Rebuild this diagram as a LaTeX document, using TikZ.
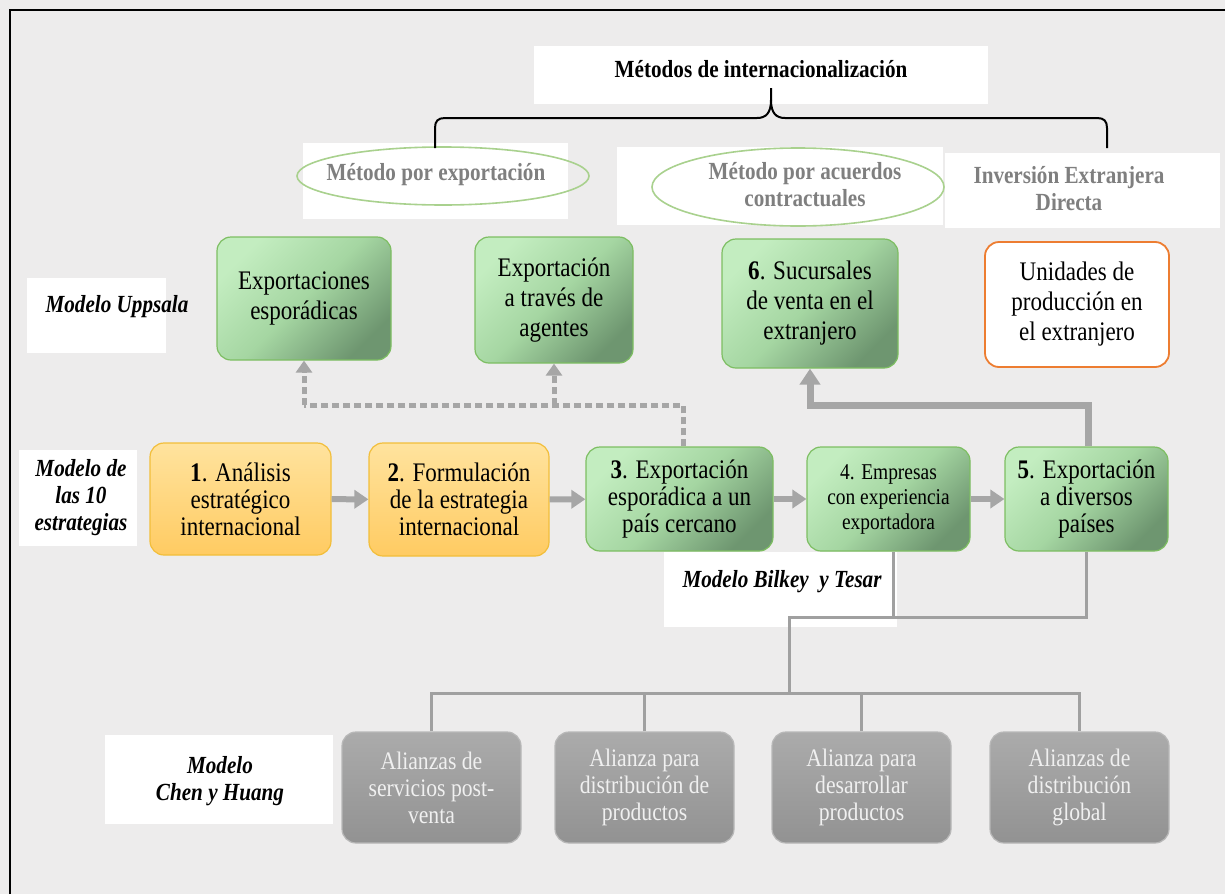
\documentclass[tikz,border=0pt]{standalone}
\usepackage{fontspec}
\setmainfont{Liberation Serif}[FakeStretch=0.86]
\usetikzlibrary{shapes.geometric,arrows.meta}
\definecolor{bgc}{HTML}{EDECEC}
\definecolor{gA}{HTML}{C3EDC0}
\definecolor{gM}{HTML}{A5D6A2}
\definecolor{gB}{HTML}{6E9670}
\definecolor{gBorder}{HTML}{7DBE62}
\definecolor{oA}{HTML}{FFE39E}
\definecolor{oB}{HTML}{FFCB62}
\definecolor{oBorder}{HTML}{F2BE3A}
\definecolor{grA}{HTML}{ABABAB}
\definecolor{grB}{HTML}{929292}
\definecolor{grBorder}{HTML}{B8B8B8}
\definecolor{conn}{HTML}{A6A6A6}
\definecolor{treec}{HTML}{A0A0A0}
\definecolor{ellc}{HTML}{A9D18E}
\definecolor{methc}{HTML}{7F7F7F}
\definecolor{orangeb}{HTML}{ED7D31}
\tikzset{
  boxtxt/.style={align=center, inner sep=0pt, font=\fontsize{13.4}{15}\selectfont},
  greenbox/.style={boxtxt, rounded corners=7pt, draw=gBorder, line width=0.6pt,
     top color=gA, bottom color=gB, middle color=gM, shading angle=45},
  orangebox/.style={boxtxt, rounded corners=7pt, draw=oBorder, line width=0.6pt,
     top color=oA, bottom color=oB, font=\fontsize{13.4}{13.5}\selectfont},
  graybox/.style={boxtxt, rounded corners=7pt, draw=grBorder, line width=0.6pt,
     top color=grA, bottom color=grB, text=white!94!black, font=\fontsize{12.6}{13.5}\selectfont},
  whitebox/.style={fill=white, inner sep=0pt},
  modeltxt/.style={align=center, inner sep=0pt, font=\fontsize{12.3}{13.5}\selectfont\bfseries\itshape},
  methtxt/.style={align=center, inner sep=0pt, text=methc, font=\fontsize{12.3}{13.5}\selectfont\bfseries},
  ell/.style={ellipse, draw=ellc, line width=0.8pt, inner sep=0pt},
  bigarrow/.style={draw=conn, line width=3pt, -{Triangle[width=9pt,length=7pt]}},
  dasharrow/.style={draw=conn, line width=2.5pt, dash pattern=on 3.5pt off 2pt, -{Triangle[width=8pt,length=6pt]}},
  dashline/.style={draw=conn, line width=2.5pt, dash pattern=on 3.5pt off 2pt},
  treeline/.style={draw=treec, line width=1.5pt},
  bracec/.style={draw=black, line width=1pt},
}
\begin{document}
\begin{tikzpicture}[x=0.5pt,y=-0.5pt]
\useasboundingbox (0,0) rectangle (1225,894);
\fill[bgc] (0,0) rectangle (1225,894);
\draw[black, line width=1pt] (10,894) -- (10,10) -- (1225,10);

% top title
\node[whitebox, minimum width=227pt, minimum height=29pt] (mbox) at (761,75) {};
\node[inner sep=0pt, font=\fontsize{12.3}{13}\selectfont\bfseries] (mtxt) at (761,69) {Métodos de internacionalización};

% method labels
\node[whitebox, minimum width=132.5pt, minimum height=38pt] (m1box) at (435.5,181) {};
\node[ell, minimum width=146pt, minimum height=29pt] (m1ell) at (443,176) {};
\node[methtxt] (m1) at (436,175) {Método por exportación};

\node[whitebox, minimum width=163pt, minimum height=39pt] (m2box) at (780,186) {};
\node[ell, minimum width=146pt, minimum height=39pt] (m2ell) at (798,187) {};
\node[methtxt] (m2) at (805,185) {Método por acuerdos\\contractuales};

\node[whitebox, minimum width=137.5pt, minimum height=37.5pt] (m3box) at (1082.5,190.5) {};
\node[methtxt] (m3) at (1069,189) {Inversión Extranjera\\Directa};

% brace
\draw[bracec] (435,148) -- (435,128) .. controls (435,121) and (438,118) .. (445,118) -- (757,118)
  .. controls (766,118) and (771,113) .. (771,100) -- (771,88);
\draw[bracec] (771,100) .. controls (771,113) and (776,118) .. (785,118) -- (1097,118)
  .. controls (1104,118) and (1107,121) .. (1107,128) -- (1107,148);

% Uppsala row
\node[whitebox, minimum width=69.5pt, minimum height=37.5pt] (upbox) at (96.5,315.5) {};
\node[modeltxt] (up) at (117,307) {Modelo Uppsala};
\node[greenbox, minimum width=87pt, minimum height=61.5pt] (expo) at (304,298.5) {Exportaciones\\esporádicas};
\node[greenbox, minimum width=79pt, minimum height=63pt] (agents) at (554,300) {Exportación\\a través de\\agentes};
\node[greenbox, minimum width=88pt, minimum height=64.5pt] (b6) at (810,303.5) {\textbf{6}. Sucursales\\de venta en el\\extranjero};
\node[boxtxt, rounded corners=7pt, fill=white, draw=orangeb, line width=0.9pt, minimum width=92pt, minimum height=62.5pt] (unid) at (1077,304.5) {Unidades de\\producción en\\el extranjero};

% strategies row
\node[whitebox, minimum width=59pt, minimum height=48pt] (e10box) at (78,498) {};
\node[modeltxt] (e10) at (81,498) {Modelo de\\las 10\\estrategias};
\node[orangebox, minimum width=90.5pt, minimum height=56pt] (b1) at (240.5,499) {\textbf{1}. Análisis\\estratégico\\internacional};
\node[orangebox, minimum width=90pt, minimum height=56.5pt] (b2) at (459,499.5) {\textbf{2}. Formulación\\de la estrategia\\internacional};
\node[greenbox, minimum width=93.5pt, minimum height=52pt, font=\fontsize{13.4}{13.5}\selectfont] (b3) at (679.5,499) {\textbf{3}. Exportación\\esporádica a un\\país cercano};
\node[greenbox, minimum width=81.5pt, minimum height=52pt, font=\fontsize{11.3}{12.5}\selectfont] (b4) at (888.5,499) {4. Empresas\\con experiencia\\exportadora};
\node[greenbox, minimum width=81.5pt, minimum height=52pt, font=\fontsize{13.4}{13.5}\selectfont] (b5) at (1086.5,499) {\textbf{5}. Exportación\\a diversos\\países};

\draw[bigarrow] (b1) -- (b2);
\draw[bigarrow] (b2) -- (b3);
\draw[bigarrow] (b3) -- (b4);
\draw[bigarrow] (b4) -- (b5);

% dashed connectors
\coordinate (dj) at (683,405);
\draw[dashline] (b3.north -| dj) -- (dj) -- (expo.south |- dj);
\draw[dasharrow] (expo.south |- dj) -- (expo.south);
\draw[dasharrow] (agents.south |- dj) -- (agents.south);

% solid connector
\coordinate (sj) at (1088,405);
\draw[draw=conn, line width=3.5pt, -{Triangle[width=10pt,length=8pt]}] (b5.north -| sj) -- (sj) -| (b6.south);

% Bilkey
\node[whitebox, minimum width=116.5pt, minimum height=37.5pt] (bkbox) at (780.5,589.5) {};
\node[modeltxt] (bk) at (782,582) {Modelo Bilkey\ \ y Tesar};

% Chen y Huang
\node[whitebox, minimum width=114pt, minimum height=44.5pt] (chbox) at (219,779.5) {};
\node[modeltxt] (ch) at (220,781) {Modelo\\Chen y Huang};
\node[graybox, minimum width=89.5pt, minimum height=55.5pt] (g1) at (431.5,787.5) {Alianzas de\\servicios post-\\venta};
\node[graybox, minimum width=89.5pt, minimum height=55.5pt] (g2) at (644.5,787.5) {Alianza para\\distribución de\\productos};
\node[graybox, minimum width=89.5pt, minimum height=55.5pt] (g3) at (861.5,787.5) {Alianza para\\desarrollar\\productos};
\node[graybox, minimum width=89.5pt, minimum height=55.5pt] (g4) at (1079.5,787.5) {Alianzas de\\distribución\\global};

% tree
\coordinate (t1) at (893,617);
\coordinate (hj) at (789,617);
\coordinate (bj) at (789,693);
\draw[treeline] (b4.south -| t1) -- (t1);
\draw[treeline] (b5.south) |- (hj) -- (bj);
\draw[treeline] (g1.north) |- (bj) -| (g4.north);
\draw[treeline] (g2.north) -- (g2.north |- bj);
\draw[treeline] (g3.north) -- (g3.north |- bj);
\end{tikzpicture}
\end{document}
